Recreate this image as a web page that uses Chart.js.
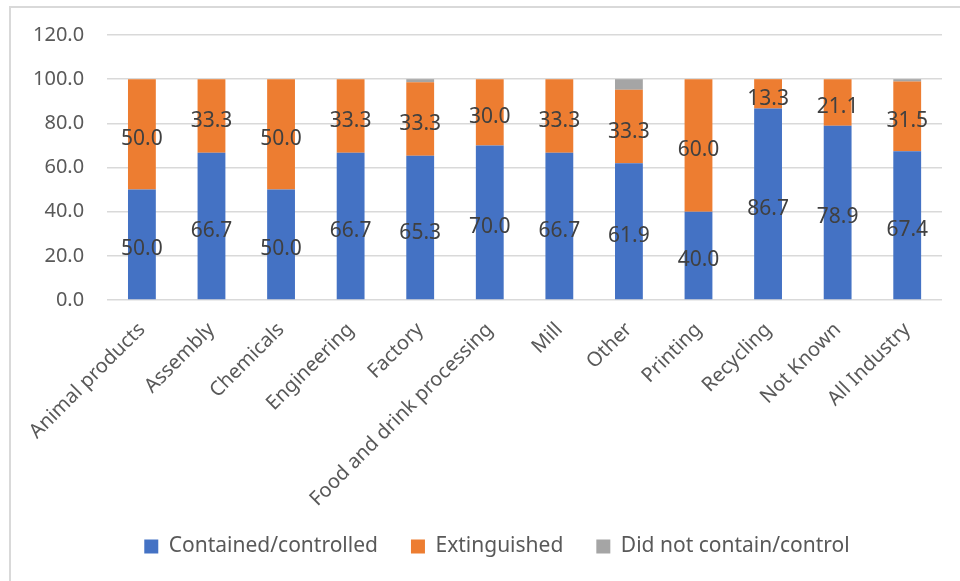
<!DOCTYPE html>
<html>
<head>
<meta charset="utf-8">
<script src="https://cdn.jsdelivr.net/npm/chart.js@4.4.0/dist/chart.umd.min.js"></script>
<style>
  html, body { margin: 0; padding: 0; background: #ffffff; }
  #frame { position: absolute; left: 9px; top: 6px; width: 1000px; height: 620px; border-left: 2px solid #D9D9D9; border-top: 2px solid #D9D9D9; box-sizing: border-box; }
  #wrap { position: absolute; left: 0; top: 0; width: 960px; height: 581px; }
</style>
</head>
<body>
<div id="frame"></div>
<div id="wrap"><canvas id="c" width="960" height="581"></canvas></div>
<script>
const categories = ['Animal products', 'Assembly', 'Chemicals', 'Engineering', 'Factory', 'Food and drink processing', 'Mill', 'Other', 'Printing', 'Recycling', 'Not Known', 'All Industry'];
const containedControlled = [50.0, 66.7, 50.0, 66.7, 65.3, 70.0, 66.7, 61.9, 40.0, 86.7, 78.9, 67.4];
const extinguished = [50.0, 33.3, 50.0, 33.3, 33.3, 30.0, 33.3, 33.3, 60.0, 13.3, 21.1, 31.5];
const didNotContain = [0, 0, 0, 0, 1.4, 0, 0, 4.8, 0, 0, 0, 1.1];
const yTicks = [0, 20, 40, 60, 80, 100, 120];

const FONT = "'Noto Sans', 'Open Sans', sans-serif";

const valueLabels = {
  id: 'valueLabels',
  afterDatasetsDraw(chart) {
    const ctx = chart.ctx;
    ctx.save();
    ctx.font = '21px ' + FONT;
    ctx.fillStyle = '#404040';
    ctx.textAlign = 'center';
    ctx.textBaseline = 'middle';
    chart.data.datasets.forEach((ds, di) => {
      if (!ds.showLabels) return;
      const meta = chart.getDatasetMeta(di);
      meta.data.forEach((bar, i) => {
        const v = ds.data[i];
        if (!v) return;
        const p = bar.getProps(['x', 'y', 'base'], true);
        ctx.fillText(v.toFixed(1), p.x, (p.y + p.base) / 2 + 5);
      });
    });
    ctx.restore();
  }
};

// nudge the legend so it is centred like the original (Excel centres it on the whole frame)
const legendShift = {
  id: 'legendShift',
  afterLayout(chart) {
    const lg = chart.legend;
    if (lg) { lg.left += 21; lg.right += 21; }
  }
};

new Chart(document.getElementById('c'), {
  type: 'bar',
  data: {
    labels: categories,
    datasets: [
      { label: 'Contained/controlled', data: containedControlled, backgroundColor: '#4472C4', showLabels: true },
      { label: 'Extinguished', data: extinguished, backgroundColor: '#ED7D31', showLabels: true },
      { label: 'Did not contain/control', data: didNotContain, backgroundColor: '#A5A5A5', showLabels: false }
    ]
  },
  options: {
    responsive: false,
    animation: false,
    devicePixelRatio: 1,
    datasets: { bar: { barPercentage: 0.4, categoryPercentage: 1.0 } },
    layout: { padding: { left: 10, right: 18, top: 35, bottom: 14 } },
    plugins: {
      legend: {
        position: 'bottom',
        labels: {
          boxWidth: 14, boxHeight: 14, padding: 33,
          color: '#595959',
          font: { family: FONT, size: 21 }
        }
      },
      tooltip: { enabled: false }
    },
    scales: {
      x: {
        stacked: true,
        grid: { display: false, drawTicks: false },
        border: { display: false },
        ticks: {
          color: '#595959', font: { family: FONT, size: 20 },
          maxRotation: 45, minRotation: 45, padding: 18, autoSkip: false
        },
        afterFit(scale) {
          scale._computeLabelArea = () => undefined;
          scale.height = 203;
        }
      },
      y: {
        stacked: true,
        min: 0, max: 120,
        afterBuildTicks(axis) { axis.ticks = yTicks.map(v => ({ value: v })); },
        grid: { color: '#D9D9D9', lineWidth: 1.5, drawTicks: false },
        border: { display: false },
        ticks: {
          color: '#595959', font: { family: FONT, size: 20 }, padding: 23,
          callback: v => Number(v).toFixed(1)
        }
      }
    }
  },
  plugins: [valueLabels, legendShift]
});
</script>
</body>
</html>
